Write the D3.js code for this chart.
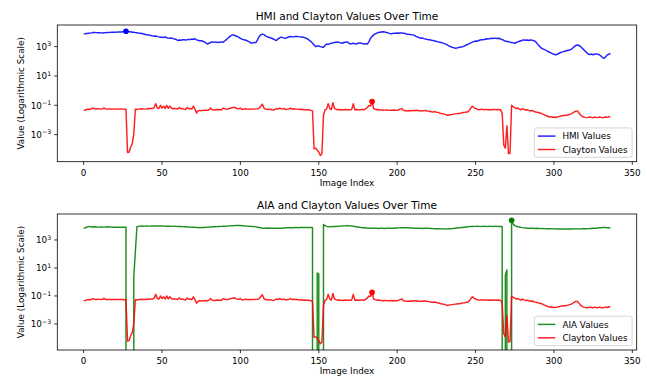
<!DOCTYPE html>
<html><head><meta charset="utf-8">
<script src="https://cdn.jsdelivr.net/npm/d3@7"></script>
<style>body{margin:0;background:#fff}svg{display:block}text{font-family:"DejaVu Sans",sans-serif;fill:#000}</style>
</head><body>
<svg id="chart" width="647" height="378"></svg>
<script>
// ---------------- data ----------------
const hmiValues = [
7400,7600,7900,8100,8300,8600,9100,9300,9000,8800,
8700,8600,8500,8800,9000,9200,9100,9300,9600,9400,
9500,9700,9900,9800,10000,10300,10600,11200,10800,10400,
10200,9600,9400,9000,8900,8300,8100,7900,7500,7000,
6300,6500,6000,5700,5400,5100,5300,4800,4600,4400,
4400,4200,4500,4000,3800,3700,3900,3500,3300,3100,
2600,2800,2700,2900,3000,2800,2900,3100,3000,3300,
3200,3400,2900,2700,2500,2500,2300,2100,1800,1500,
1700,1900,2100,2000,2100,2000,1900,2000,2100,2000,
2400,3000,3700,4600,5600,6300,6000,5300,4900,4300,
3700,3200,3000,2800,2600,2300,2000,1700,1800,1900,
1900,3000,4900,6300,7100,6500,5400,4800,4300,4000,
3700,3300,2900,2600,3400,4000,4400,4100,3800,3700,
4200,4700,4900,4600,4700,5000,4900,4800,4600,4500,
4400,4100,3700,3200,2700,2200,1700,1300,1000,1100,
1100,1000,950,900,1200,1500,1400,1600,1700,1800,
1900,2000,2100,1900,1800,1700,1900,2000,2100,1800,
1500,1600,1700,1600,1500,1700,1800,1700,1600,1500,
1600,1500,2200,3700,5000,6300,7400,8300,9100,9600,
10000,10200,9800,9300,8700,8000,7400,7800,8300,8100,
8400,8200,8500,8600,8300,7800,7300,7000,6800,6500,
6300,5800,5000,4500,4100,3700,3900,3500,3300,3100,
2900,2900,2700,2600,2400,2300,2100,2000,1900,1800,
1600,1500,1300,1100,1000,900,850,780,800,850,
900,950,1000,1100,1300,1400,1600,1800,2000,2200,
2400,2300,2600,2800,3000,2900,3200,3400,3300,3500,
3700,3600,3800,3700,3600,3700,3300,3000,2700,2400,
2200,2200,2000,1900,1800,1700,1900,2100,2300,2500,
2700,2900,2700,2800,2600,2900,2700,2600,2300,1800,
1300,1000,780,700,620,560,460,430,380,330,
300,270,300,340,380,420,460,480,520,560,
590,650,800,1000,1200,1300,1200,1000,780,620,
480,380,300,290,310,280,300,320,300,280,
230,180,160,200,270,300,350
];
const claytonValues = [
0.046,0.048,0.052,0.055,0.054,0.058,0.065,0.058,0.056,0.058,
0.057,0.055,0.058,0.066,0.056,0.055,0.057,0.056,0.055,0.056,
0.055,0.056,0.057,0.055,0.056,0.055,0.054,0.055,6e-5,6.5e-5,
1.4e-4,2.4e-4,1.1e-3,0.055,0.052,0.055,0.056,0.058,0.056,0.055,
0.057,0.06,0.058,0.062,0.06,0.07,0.13,0.065,0.06,0.1,
0.065,0.087,0.06,0.1,0.062,0.087,0.065,0.058,0.06,0.06,
0.055,0.071,0.058,0.06,0.055,0.052,0.071,0.058,0.06,0.055,
0.087,0.055,0.03,0.042,0.045,0.043,0.045,0.046,0.047,0.045,
0.05,0.065,0.05,0.048,0.05,0.052,0.05,0.049,0.05,0.065,
0.058,0.055,0.056,0.06,0.065,0.068,0.075,0.065,0.06,0.058,
0.065,0.052,0.055,0.058,0.056,0.055,0.054,0.055,0.056,0.055,
0.057,0.058,0.065,0.09,0.12,0.065,0.055,0.054,0.052,0.055,
0.05,0.048,0.052,0.06,0.055,0.065,0.058,0.055,0.06,0.052,
0.055,0.056,0.065,0.055,0.058,0.056,0.055,0.053,0.052,0.054,
0.05,0.051,0.049,0.05,0.048,0.045,0.042,1.1e-4,1.2e-4,9e-5,
6.5e-5,3.8e-5,5e-5,0.021,0.05,0.055,0.13,0.06,0.051,0.15,
0.06,0.055,0.05,0.052,0.05,0.048,0.05,0.052,0.05,0.049,
0.05,0.052,0.13,0.05,0.052,0.05,0.049,0.051,0.052,0.05,
0.06,0.071,0.1,0.09,0.18,0.06,0.055,0.05,0.052,0.049,
0.048,0.046,0.047,0.048,0.046,0.045,0.047,0.046,0.048,0.046,
0.045,0.05,0.055,0.06,0.045,0.043,0.042,0.041,0.044,0.042,
0.045,0.043,0.046,0.044,0.042,0.041,0.043,0.042,0.045,0.041,
0.04,0.038,0.036,0.035,0.037,0.034,0.033,0.03,0.028,0.027,
0.025,0.023,0.021,0.022,0.023,0.024,0.025,0.026,0.027,0.028,
0.028,0.03,0.032,0.033,0.035,0.035,0.045,0.065,0.087,0.07,
0.06,0.055,0.05,0.052,0.055,0.05,0.051,0.052,0.05,0.051,
0.05,0.052,0.051,0.05,0.052,0.05,0.049,0.028,2e-4,1.2e-4,
4e-3,5e-5,5.5e-5,0.1,0.08,0.07,0.06,0.065,0.055,0.05,
0.06,0.052,0.048,0.05,0.045,0.042,0.044,0.04,0.036,0.034,
0.032,0.03,0.028,0.025,0.022,0.02,0.018,0.016,0.017,0.015,
0.016,0.0145,0.016,0.017,0.018,0.019,0.02,0.02,0.021,0.022,
0.024,0.026,0.03,0.036,0.04,0.041,0.03,0.022,0.018,0.016,
0.015,0.0145,0.015,0.016,0.015,0.014,0.016,0.015,0.0145,0.016,
0.015,0.014,0.015,0.016,0.015,0.017,0.016
];
const aiaValues = [
6800,7500,8200,9000,9100,8600,8400,8700,8500,8300,
8400,8600,8500,8300,8400,8800,8600,8500,8300,8200,
8100,8200,8300,8100,8200,8300,8100,8000,0,0,
0,0,2.5,150,8900,9400,9800,9900,9700,9800,
9900,10000,9800,9900,10100,10000,9900,10000,10100,9900,
10000,9800,9700,9600,9800,9700,9500,9400,9500,9400,
9300,9200,9100,9000,8900,8800,8600,8500,8300,8200,
8100,8000,7900,7800,7600,7700,7800,7900,8100,8300,
8500,8600,8700,8800,8900,9000,9200,9300,9400,9500,
9600,9800,10000,10200,10400,10500,10600,10700,10800,10900,
10700,10500,10300,10000,9800,9600,9400,9300,9200,9000,
8600,8200,7800,7400,7000,6800,6900,7000,7100,7000,
6900,6800,6900,7000,6900,6800,6800,7000,7200,7400,
7500,7600,7500,7400,7600,7800,7700,7600,7700,7800,
7900,7800,7700,7800,7900,7800,7700,0,0,4.3,
3.6,0,0,13000,10500,9400,9000,8900,9000,9100,
9200,9300,9400,9600,9800,10000,10200,10300,10500,10400,
10200,9900,9500,9200,8800,8400,8200,7800,7600,7400,
7200,7100,7000,6900,6800,6800,6900,6800,6700,6800,
6900,6800,6700,6800,6900,6800,6800,6900,7000,7100,
7200,7300,7400,7600,7500,7400,7500,7400,7300,7200,
7100,7000,6900,6800,6900,6800,6700,6800,6900,6800,
6800,6700,6600,6500,6400,6500,6400,6300,6200,6300,
6200,6100,6200,6300,6400,6500,6700,6900,7100,7300,
7500,7700,7900,8200,8500,8800,9000,9200,9300,9400,
9400,9500,9400,9300,9400,9500,9400,9300,9400,9500,
9400,9300,9400,9500,9400,9300,9400,9300,0,3,
7.2,0,0,26000,14000,10500,9500,8900,8500,8000,
7600,7300,7100,7000,6900,6800,6900,6800,6700,6800,
6700,6600,6500,6600,6500,6400,6300,6400,6300,6200,
6300,6200,6100,6200,6100,6200,6100,6000,6100,6200,
6100,6200,6100,6200,6300,6200,6100,6200,6300,6400,
6300,6400,6500,6600,6700,6800,6900,7000,7200,7400,
7600,7800,7900,7700,7600,7500,7600
];
const imageIndex = d3.range(hmiValues.length);
const xTickValues = [0, 50, 100, 150, 200, 250, 300, 350];
const yTickExponents = [-3, -1, 1, 3];
const panelTitles = ["HMI and Clayton Values Over Time", "AIA and Clayton Values Over Time"];
const seriesNames = [["HMI Values", "Clayton Values"], ["AIA Values", "Clayton Values"]];
const xLabel = "Image Index";
const yLabel = "Value (Logarithmic Scale)";

// ---------------- layout / style ----------------
const svg = d3.select("#chart");
const L = 57.3, R = 636.7;
const FS = 8.8, TFS = 10.56;
const panels = [
  {top: 25, bottom: 161.7, series: [hmiValues, claytonValues], colors: ["#0000ff", "#ff0000"]},
  {top: 214, bottom: 350, series: [aiaValues, claytonValues], colors: ["#008000", "#ff0000"]}
];

const xExt = d3.extent(imageIndex);
const xPad = (xExt[1] - xExt[0]) * 0.05;

panels.forEach((p, pi) => {
  const g = svg.append("g");
  const x = d3.scaleLinear().domain([xExt[0] - xPad, xExt[1] + xPad]).range([L, R]);
  const pos = p.series.flat().filter(v => v > 0);
  const lmin = Math.log10(d3.min(pos)), lmax = Math.log10(d3.max(pos));
  const lp = (lmax - lmin) * 0.05;
  const y = d3.scaleLog().domain([Math.pow(10, lmin - lp), Math.pow(10, lmax + lp)]).range([p.bottom, p.top]);

  const clipId = "clip" + pi;
  svg.append("clipPath").attr("id", clipId).append("rect")
    .attr("x", L).attr("y", p.top).attr("width", R - L).attr("height", p.bottom - p.top);

  const plot = g.append("g").attr("clip-path", `url(#${clipId})`);
  const line = vals => d3.line()
    .x((d, i) => x(imageIndex[i]))
    .y(d => d > 0 ? y(d) : p.bottom + 1e5)(vals);

  p.series.forEach((vals, si) => {
    plot.append("path").attr("d", line(vals)).attr("fill", "none")
      .attr("stroke", p.colors[si]).attr("stroke-width", 1.45).attr("stroke-opacity", 0.88)
      .attr("stroke-linejoin", "round");
  });
  p.series.forEach((vals, si) => {
    const mi = d3.maxIndex(vals);
    plot.append("circle").attr("cx", x(imageIndex[mi])).attr("cy", y(vals[mi])).attr("r", 2.8)
      .attr("fill", p.colors[si]);
  });

  // spines
  g.append("rect").attr("x", L).attr("y", p.top).attr("width", R - L).attr("height", p.bottom - p.top)
    .attr("fill", "none").attr("stroke", "#000").attr("stroke-width", 0.8);

  // x ticks
  xTickValues.forEach(t => {
    const xx = x(t);
    g.append("line").attr("x1", xx).attr("x2", xx).attr("y1", p.bottom).attr("y2", p.bottom + 3.1)
      .attr("stroke", "#000").attr("stroke-width", 0.8);
    g.append("text").attr("x", xx).attr("y", p.bottom + 14).attr("text-anchor", "middle")
      .attr("font-size", FS).text(t);
  });
  // y ticks
  yTickExponents.forEach(e => {
    const yy = y(Math.pow(10, e));
    g.append("line").attr("x1", L - 3.1).attr("x2", L).attr("y1", yy).attr("y2", yy)
      .attr("stroke", "#000").attr("stroke-width", 0.8);
    const t = g.append("text").attr("x", L - 6.2).attr("y", yy + 3.4).attr("text-anchor", "end")
      .attr("font-size", FS);
    t.append("tspan").text("10");
    t.append("tspan").attr("dy", -3.8).attr("font-size", 6.2).text(String(e).replace("-", "\u2212"));
  });

  // title and labels
  g.append("text").attr("x", (L + R) / 2).attr("y", p.top - 5.4).attr("text-anchor", "middle")
    .attr("font-size", TFS).text(panelTitles[pi]);
  g.append("text").attr("x", (L + R) / 2).attr("y", p.bottom + 24.3).attr("text-anchor", "middle")
    .attr("font-size", FS).text(xLabel);
  g.append("text").attr("transform", `translate(24.4,${(p.top + p.bottom) / 2}) rotate(-90)`)
    .attr("text-anchor", "middle").attr("font-size", FS).text(yLabel);

  // legend
  const lgW = 97.8, lgH = 29.4;
  const lx = R - 4.6 - lgW, ly = p.bottom - 4.4 - lgH;
  const lg = g.append("g");
  lg.append("rect").attr("x", lx).attr("y", ly).attr("width", lgW).attr("height", lgH).attr("rx", 2.5)
    .attr("fill", "#fff").attr("fill-opacity", 0.8).attr("stroke", "#cccccc").attr("stroke-width", 0.8);
  seriesNames[pi].forEach((nm, si) => {
    const cy = ly + 8.2 + si * 13.4;
    lg.append("line").attr("x1", lx + 3.5).attr("x2", lx + 21.1).attr("y1", cy).attr("y2", cy)
      .attr("stroke", p.colors[si]).attr("stroke-width", 1.45).attr("stroke-opacity", 0.88);
    lg.append("text").attr("x", lx + 28.1).attr("y", cy + 3.2).attr("font-size", FS).text(nm);
  });
});
</script>
</body></html>
